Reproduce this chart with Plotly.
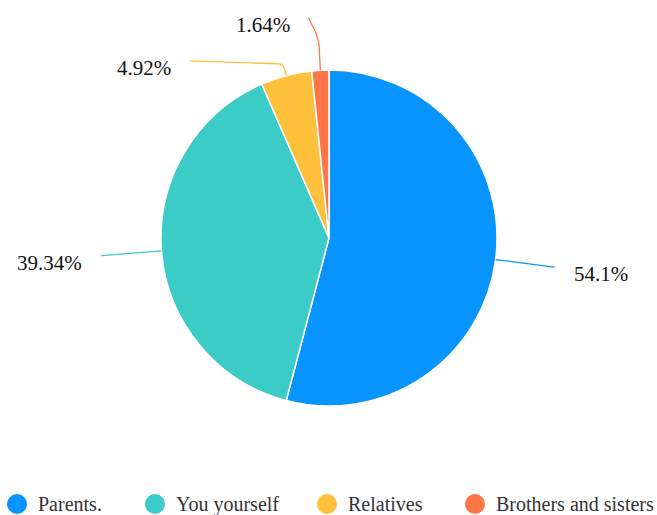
import math
import plotly.graph_objects as go

# Survey answers (respondent counts) and their display names
categories = ["Parents.", "You yourself", "Relatives", "Brothers and sisters"]
counts = [33, 24, 3, 1]
colors = ["#0894FF", "#3CCCC8", "#FFC03C", "#FF7548"]

W, H = 657, 515
CX, CY, R = 329, 238, 168          # pie centre and radius in pixels
FONT = "Liberation Serif"

# Leader-line geometry per slice: radial length, offset of the end point
# from the elbow, and corner rounding
leader_style = [
    dict(len1=59, dx=0.5, dy=0, corner=0),
    dict(len1=60, dx=-0.5, dy=0, corner=0),
    dict(len1=12, dx=-93, dy=-3, corner=5),
    dict(len1=32, dx=-10, dy=-20, corner=10),
]
legend_x = [17, 155, 327, 475]      # legend marker centres
legend_y = 504


def px(x, y):
    return x / W, 1 - y / H


def toward(a, b, d):
    L = math.hypot(b[0] - a[0], b[1] - a[1]) or 1
    return (a[0] + (b[0] - a[0]) * d / L, a[1] + (b[1] - a[1]) * d / L)


fig = go.Figure()
fig.add_trace(go.Pie(
    labels=categories, values=counts, sort=False, direction="clockwise",
    rotation=0, textinfo="none", hoverinfo="label+percent",
    marker=dict(colors=colors, line=dict(color="white", width=1.5)),
    domain=dict(x=[(CX - R) / W, (CX + R) / W],
                y=[1 - (CY + R) / H, 1 - (CY - R) / H]),
    showlegend=False,
))

total = sum(counts)
shapes, annotations = [], []
acc = 0
for i, v in enumerate(counts):
    frac = v / total
    mid = (acc + frac / 2) * 2 * math.pi
    acc += frac
    dx_dir, dy_dir = math.sin(mid), -math.cos(mid)
    st = leader_style[i]
    p0 = (CX + R * dx_dir, CY + R * dy_dir)
    p1 = (CX + (R + st["len1"]) * dx_dir, CY + (R + st["len1"]) * dy_dir)
    p2 = (p1[0] + st["dx"], p1[1] + st["dy"])
    k = st["corner"]

    if k > 0:
        a = toward(p1, p0, k)
        b = toward(p1, p2, k)
        path = "M {} {} L {} {} Q {} {} {} {} L {} {}".format(
            *px(*p0), *px(*a), *px(*p1), *px(*b), *px(*p2))
    else:
        path = "M {} {} L {} {} L {} {}".format(*px(*p0), *px(*p1), *px(*p2))
    shapes.append(dict(type="path", path=path, xref="paper", yref="paper",
                       line=dict(color=colors[i], width=1.3)))

    pct = round(frac * 100, 2)
    label = f"{pct:g}%"
    right = st["dx"] > 0
    tx = p2[0] + (17 if right else -17)
    annotations.append(dict(
        text=label, x=tx / W, y=1 - (p2[1] + 7) / H, xref="paper", yref="paper",
        xanchor="left" if right else "right", yanchor="middle", showarrow=False,
        font=dict(family=FONT, size=21, color="#111")))

# Legend drawn as circles with labels
for i, name in enumerate(categories):
    x = legend_x[i]
    shapes.append(dict(type="circle", xref="paper", yref="paper",
                       x0=(x - 10) / W, x1=(x + 10) / W,
                       y0=1 - (legend_y + 10) / H, y1=1 - (legend_y - 10) / H,
                       fillcolor=colors[i], line=dict(width=0)))
    annotations.append(dict(
        text=name, x=(x + 20) / W, y=1 - legend_y / H, xref="paper", yref="paper",
        xanchor="left", yanchor="middle", showarrow=False, borderpad=0,
        font=dict(family=FONT, size=20, color="#333")))

fig.update_layout(
    width=W, height=H, margin=dict(l=0, r=0, t=0, b=0),
    paper_bgcolor="white", plot_bgcolor="white",
    shapes=shapes, annotations=annotations,
)
fig.write_html("out.html")
